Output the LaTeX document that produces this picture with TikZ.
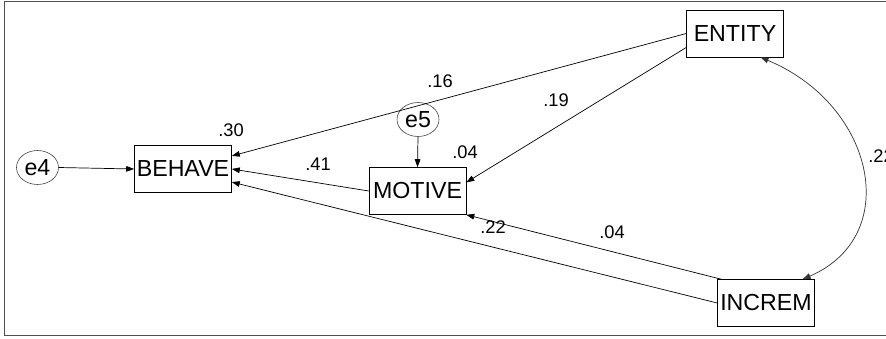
\documentclass[tikz,border=0pt]{standalone}
\usepackage{fontspec}
\setmainfont{Liberation Sans}
\usetikzlibrary{arrows.meta,shapes.geometric}
\definecolor{Frame}{HTML}{505050}
\definecolor{Ink}{HTML}{000000}
\tikzset{var/.style={draw=Ink,rectangle,minimum width=24.25mm,minimum height=11.75mm,
    inner sep=0pt,font=\fontsize{16.5}{18}\selectfont},
  err/.style={draw=black!75,ellipse,minimum width=10.5mm,minimum height=8.5mm,
    inner sep=0pt,font=\fontsize{16.5}{18}\selectfont},
  regedge/.style={-{Triangle[length=2mm,width=1.4mm]},line width=0.5pt,draw=Ink},
  covedge/.style={{Triangle[length=2mm,width=1.4mm]}-{Triangle[length=2mm,width=1.4mm]},
    line width=0.5pt,draw=black!80},
  coef/.style={font=\fontsize{13}{15}\selectfont,inner sep=0pt}}

\begin{document}
\begin{tikzpicture}[x=0.25mm,y=-0.25mm]
  \useasboundingbox (0,0) rectangle (886,339);
  \draw[Frame,line width=1.2pt] (886,1.5) -- (4.5,1.5) -- (4.5,335.5) -- (886,335.5);
  % observed variables
  \node[var] (behave) at (183,169) {BEHAVE};
  \node[var] (motive) at (417.5,191) {MOTIVE};
  \node[var] (entity) at (735,33.5) {ENTITY};
  \node[var] (increm) at (766,303) {INCREM};
  % residuals
  \node[err] (e4) at (37.5,167.5) {e4};
  \node[err] (e5) at (418,119.5) {e5};
  % paths
  \draw[regedge] (e4.east) -- (behave.west);
  \draw[regedge] (e5.south) -- (motive.north);
  \draw[regedge] (entity.west) -- (behave.15);
  \draw[regedge] (entity.196) -- (motive.10);
  \draw[regedge] (motive.west) -- (behave.east);
  \draw[regedge] (increm.west) -- (behave.-15);
  \draw[regedge] (increm.152) -- (motive.south east);
  \draw[covedge] (entity.-43) .. controls (875,105) and (903,236) .. (increm.33);
  % estimates
  \node[coef] (r2behave) at (231,130) {.30};
  \node[coef] (r2motive) at (465,152) {.04};
  \node[coef] (bentbeh) at (440,81) {.16};
  \node[coef] (bentmot) at (556,100) {.19};
  \node[coef] (bmotbeh) at (318,164) {.41};
  \node[coef] (bincbeh) at (493,227) {.22};
  \node[coef] (bincmot) at (612,232) {.04};
  \node[coef,anchor=west] (rentinc) at (868,156) {.22};
\end{tikzpicture}
\end{document}
